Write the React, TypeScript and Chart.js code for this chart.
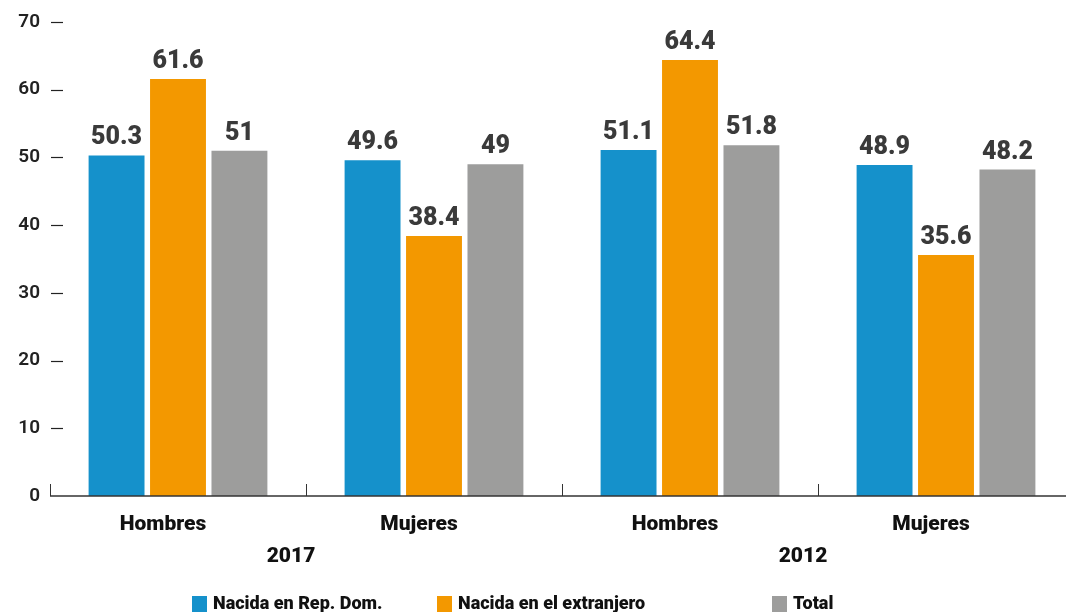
import React, { useEffect, useRef } from "react";
import { Chart, registerables } from "chart.js";

Chart.register(...registerables);

const categories = ["Hombres", "Mujeres", "Hombres", "Mujeres"];
const years = ["2017", "2012"];
const seriesNames = ["Nacida en Rep. Dom.", "Nacida en el extranjero", "Total"];
const nacidaRD = [50.3, 49.6, 51.1, 48.9];
const nacidaExt = [61.6, 38.4, 64.4, 35.6];
const total = [51, 49, 51.8, 48.2];
const seriesColors = ["#1591CB", "#F39800", "#9D9D9C"];
const yMin = 0;
const yMax = 70;
const yStep = 10;

const FONT = "Roboto, 'DejaVu Sans', sans-serif";

const decorPlugin = {
  id: "decor",
  afterDraw(chart: any) {
    const ctx = chart.ctx;
    const xs = chart.scales.x;
    const ys = chart.scales.y;
    const area = chart.chartArea;
    const n = categories.length;
    const catW = (xs.getPixelForValue(1) - xs.getPixelForValue(0));
    ctx.save();
    // x axis line
    ctx.strokeStyle = "#333";
    ctx.lineWidth = 1.5;
    ctx.beginPath();
    ctx.moveTo(area.left, area.bottom);
    ctx.lineTo(area.right, area.bottom);
    ctx.stroke();
    // category dividers
    ctx.lineWidth = 1;
    for (let i = 0; i < n; i++) {
      const x = Math.round(xs.getPixelForValue(i) - catW / 2) + 0.5;
      ctx.beginPath();
      ctx.moveTo(x, area.bottom - 12);
      ctx.lineTo(x, area.bottom);
      ctx.stroke();
    }
    // y tick dashes
    ctx.lineWidth = 1.2;
    ctx.strokeStyle = "#222";
    for (let v = yMin + yStep; v <= yMax; v += yStep) {
      const y = Math.round(ys.getPixelForValue(v)) + 0.5;
      ctx.beginPath();
      ctx.moveTo(area.left + 1, y);
      ctx.lineTo(area.left + 13, y);
      ctx.stroke();
    }
    // data labels
    ctx.fillStyle = "#3a3a3a";
    ctx.font = "900 25px " + FONT;
    ctx.textAlign = "center";
    ctx.textBaseline = "alphabetic";
    chart.data.datasets.forEach((ds: any, di: number) => {
      const meta = chart.getDatasetMeta(di);
      meta.data.forEach((el: any, i: number) => {
        ctx.fillText(String(ds.data[i]), el.x, el.y - 11);
      });
    });
    // category labels
    ctx.fillStyle = "#111";
    ctx.font = "900 21px " + FONT;
    ctx.textBaseline = "middle";
    categories.forEach((c, i) => {
      ctx.fillText(c, xs.getPixelForValue(i) - 15, area.bottom + 29);
    });
    // year labels
    years.forEach((yr, k) => {
      const x = (xs.getPixelForValue(2 * k) + xs.getPixelForValue(2 * k + 1)) / 2 - 15;
      ctx.fillText(yr, x, area.bottom + 61);
    });
    // legend
    const legendX = [192, 437, 772];
    ctx.font = "900 18px " + FONT;
    ctx.textAlign = "left";
    ctx.textBaseline = "middle";
    seriesNames.forEach((name, i) => {
      ctx.fillStyle = seriesColors[i];
      ctx.fillRect(legendX[i], 596, 15, 16);
      ctx.fillStyle = "#111";
      ctx.fillText(name, legendX[i] + 21, 604);
    });
    ctx.restore();
  },
};

export default function App() {
  const ref = useRef<HTMLCanvasElement>(null);
  useEffect(() => {
    if (!ref.current) return;
    const chart = new Chart(ref.current, {
      type: "bar",
      data: {
        labels: categories,
        datasets: [
          { label: seriesNames[0], data: nacidaRD, backgroundColor: seriesColors[0] },
          { label: seriesNames[1], data: nacidaExt, backgroundColor: seriesColors[1] },
          { label: seriesNames[2], data: total, backgroundColor: seriesColors[2] },
        ],
      },
      options: {
        responsive: false,
        animation: false,
        devicePixelRatio: 1,
        layout: { padding: { top: 22, left: 0, right: 0, bottom: 0 } },
        datasets: { bar: { categoryPercentage: 0.72, barPercentage: 0.91 } },
        plugins: { legend: { display: false }, tooltip: { enabled: false } },
        scales: {
          x: {
            grid: { display: false },
            border: { display: false },
            ticks: { display: false },
            afterFit: (s: any) => { s.height = 116; },
          },
          y: {
            min: yMin,
            max: yMax,
            grid: { display: false, drawTicks: false },
            border: { display: false },
            ticks: {
              stepSize: yStep,
              padding: 10,
              color: "#222",
              font: { family: FONT, size: 19, weight: 600 },
            },
            afterFit: (s: any) => { s.width = 50; },
          },
        },
      },
      plugins: [decorPlugin],
    } as any);
    return () => chart.destroy();
  }, []);
  return (
    <div style={{ position: "absolute", left: 0, top: 0, width: 1066, height: 612, overflow: "hidden", background: "#fff" }}>
      <canvas ref={ref} width={1074} height={612} style={{ width: 1074, height: 612, display: "block" }} />
    </div>
  );
}
